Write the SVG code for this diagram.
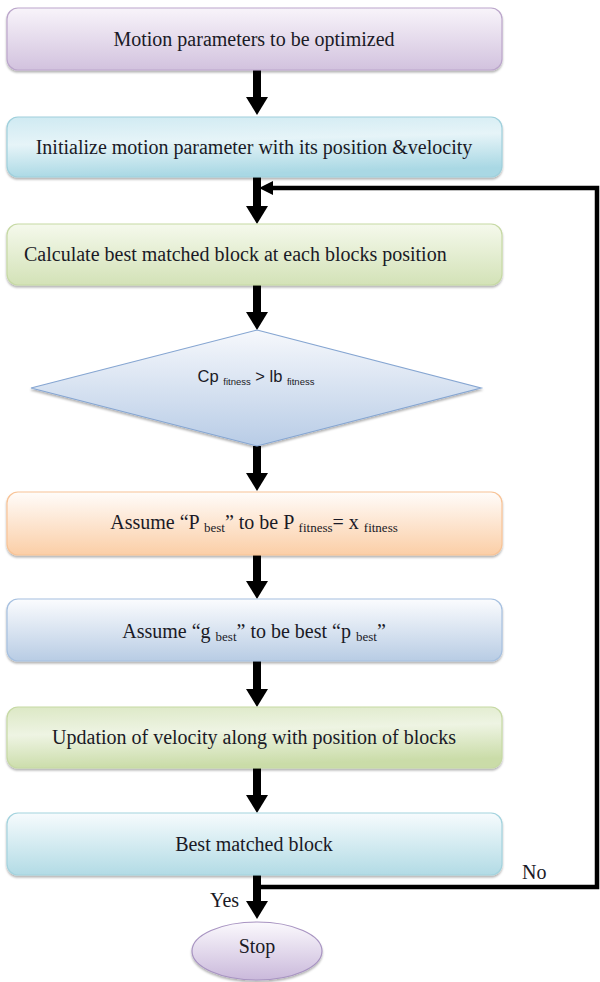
<svg xmlns="http://www.w3.org/2000/svg" width="600" height="982" viewBox="0 0 600 982">
<style>
  .t { font-family: "Liberation Serif", "Times New Roman", "DejaVu Serif", serif; font-size: 20px; fill: #1a1a26; }
  .s { font-family: "Liberation Sans", Arial, sans-serif; font-size: 16.5px; fill: #1a1a26; }
  .sub { font-size: 13px; }
  .ss { font-size: 9.5px; }
  .box { stroke-width: 1.2; filter: url(#sh); }
  .conn { fill: none; stroke: #000; stroke-linejoin: miter; }
</style>
<defs>
  <filter id="sh" x="-5%" y="-10%" width="110%" height="130%">
    <feDropShadow dx="0" dy="2" stdDeviation="1.3" flood-color="#000" flood-opacity="0.3"/>
  </filter>
  <linearGradient id="gPurple" x1="0" y1="0" x2="0" y2="1">
    <stop offset="0" stop-color="#f8f4fa"/><stop offset="1" stop-color="#d2c2de"/>
  </linearGradient>
  <linearGradient id="gCyan" x1="0" y1="0" x2="0.2" y2="1">
    <stop offset="0" stop-color="#cfeaf2"/><stop offset="0.45" stop-color="#e6f4f8"/><stop offset="1" stop-color="#a9d8e4"/>
  </linearGradient>
  <linearGradient id="gGreen" x1="0" y1="0" x2="0" y2="1">
    <stop offset="0" stop-color="#f5f9ec"/><stop offset="1" stop-color="#d3e2b7"/>
  </linearGradient>
  <linearGradient id="gDiam" x1="0" y1="0" x2="0" y2="1">
    <stop offset="0" stop-color="#f6f8fc"/><stop offset="1" stop-color="#b8cce6"/>
  </linearGradient>
  <linearGradient id="gOrange" x1="0" y1="0" x2="0" y2="1">
    <stop offset="0" stop-color="#fffcfa"/><stop offset="1" stop-color="#fbcea6"/>
  </linearGradient>
  <linearGradient id="gBlue" x1="0" y1="0" x2="0" y2="1">
    <stop offset="0" stop-color="#fbfcfe"/><stop offset="1" stop-color="#b8cce4"/>
  </linearGradient>
  <linearGradient id="gGreen2" x1="0" y1="0" x2="0.2" y2="1">
    <stop offset="0" stop-color="#dce8c5"/><stop offset="0.45" stop-color="#eef4e3"/><stop offset="1" stop-color="#cadca8"/>
  </linearGradient>
  <linearGradient id="gLBlue" x1="0" y1="0" x2="0" y2="1">
    <stop offset="0" stop-color="#f6fbfd"/><stop offset="1" stop-color="#b2dbe5"/>
  </linearGradient>
  <linearGradient id="gStop" x1="0" y1="0" x2="0" y2="1">
    <stop offset="0" stop-color="#fbf9fd"/><stop offset="1" stop-color="#cab9db"/>
  </linearGradient>
  <marker id="ah" markerUnits="userSpaceOnUse" markerWidth="18" markerHeight="22" refX="0" refY="11" orient="auto" overflow="visible">
    <path d="M0,0 L18,11 L0,22 z" fill="#000"/>
  </marker>
  <marker id="ahs" markerUnits="userSpaceOnUse" markerWidth="14" markerHeight="14" refX="0" refY="7" orient="auto" overflow="visible">
    <path d="M0,0 L14,7 L0,14 z" fill="#000"/>
  </marker>
</defs>

<g id="connectors">
  <line class="conn" x1="257" y1="70" x2="257" y2="97" stroke-width="8" marker-end="url(#ah)"/>
  <line class="conn" x1="257" y1="177" x2="257" y2="206" stroke-width="8" marker-end="url(#ah)"/>
  <line class="conn" x1="257" y1="285" x2="257" y2="312" stroke-width="8" marker-end="url(#ah)"/>
  <line class="conn" x1="257" y1="446" x2="257" y2="473" stroke-width="8" marker-end="url(#ah)"/>
  <line class="conn" x1="257" y1="555" x2="257" y2="581" stroke-width="8" marker-end="url(#ah)"/>
  <line class="conn" x1="257" y1="661" x2="257" y2="689" stroke-width="8" marker-end="url(#ah)"/>
  <line class="conn" x1="257" y1="768" x2="257" y2="795" stroke-width="8" marker-end="url(#ah)"/>
  <line class="conn" x1="257" y1="875" x2="257" y2="901" stroke-width="8" marker-end="url(#ah)"/>
  <polyline class="conn" points="257,887 597,887 597,188 273,188" stroke-width="4.5" marker-end="url(#ahs)"/>
</g>

<g id="n1">
  <rect class="box" x="7" y="8" width="495" height="62" rx="11" fill="url(#gPurple)" stroke="#bba6cb"/>
  <text class="t" x="254" y="46" text-anchor="middle">Motion parameters to be optimized</text>
</g>
<g id="n2">
  <rect class="box" x="7" y="117" width="495" height="60" rx="11" fill="url(#gCyan)" stroke="#9fd0dc"/>
  <text class="t" x="254" y="154" text-anchor="middle">Initialize motion parameter with its position &amp;velocity</text>
</g>
<g id="n3">
  <rect class="box" x="7" y="224" width="495" height="61" rx="11" fill="url(#gGreen)" stroke="#c6d9a4"/>
  <text class="t" x="24" y="261">Calculate best matched block at each blocks position</text>
</g>
<g id="n4">
  <polygon class="box" points="257,330 481,388 257,446 31,388" fill="url(#gDiam)" stroke="#86a6d2"/>
  <text class="s" x="256" y="382" text-anchor="middle">Cp <tspan class="ss" dy="3">fitness</tspan><tspan dy="-3"> &gt; lb </tspan><tspan class="ss" dy="3">fitness</tspan></text>
</g>
<g id="n5">
  <rect class="box" x="7" y="492" width="495" height="63" rx="11" fill="url(#gOrange)" stroke="#f8c396"/>
  <text class="t" x="254" y="529" text-anchor="middle">Assume “P <tspan class="sub" dy="3">best</tspan><tspan dy="-3">” to be P </tspan><tspan class="sub" dy="3">fitness</tspan><tspan dy="-3">= x </tspan><tspan class="sub" dy="3">fitness</tspan></text>
</g>
<g id="n6">
  <rect class="box" x="7" y="599" width="495" height="62" rx="11" fill="url(#gBlue)" stroke="#a6c0e0"/>
  <text class="t" x="254" y="638" text-anchor="middle">Assume “g <tspan class="sub" dy="3">best</tspan><tspan dy="-3">” to be best “p </tspan><tspan class="sub" dy="3">best</tspan><tspan dy="-3">”</tspan></text>
</g>
<g id="n7">
  <rect class="box" x="7" y="707" width="495" height="61" rx="11" fill="url(#gGreen2)" stroke="#c6d9a4"/>
  <text class="t" x="254" y="744" text-anchor="middle">Updation of velocity along with position of blocks</text>
</g>
<g id="n8">
  <rect class="box" x="7" y="813" width="495" height="62" rx="11" fill="url(#gLBlue)" stroke="#a3d3de"/>
  <text class="t" x="254" y="851" text-anchor="middle">Best matched block</text>
</g>
<g id="n9">
  <ellipse class="box" cx="257" cy="951" rx="65" ry="29" fill="url(#gStop)" stroke="#a894c2"/>
  <text class="t" x="257" y="953" text-anchor="middle">Stop</text>
</g>

<g id="labels">
  <text class="t" x="522" y="879">No</text>
  <text class="t" x="210" y="907">Yes</text>
</g>
</svg>
